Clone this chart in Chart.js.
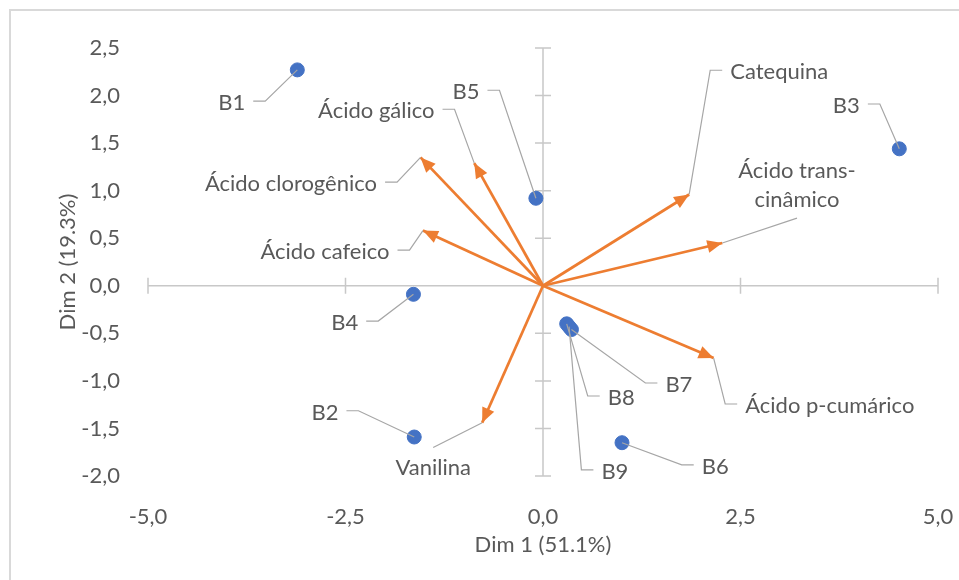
<!DOCTYPE html>
<html>
<head>
<meta charset="utf-8">
<script src="https://cdn.jsdelivr.net/npm/chart.js@4.4.1/dist/chart.umd.min.js"></script>
<style>
  html, body { margin: 0; padding: 0; background: #fff; }
  #wrap { position: relative; width: 959px; height: 580px; }
</style>
</head>
<body>
<div id="wrap"><canvas id="pcaChart"></canvas></div>
<script>
// Sample scores (Dim 1, Dim 2)
const sampleNames = ["B1", "B2", "B3", "B4", "B5", "B6", "B7", "B8", "B9"];
const sampleDim1 = [-3.11, -1.63, 4.51, -1.64, -0.09, 1.00, 0.36, 0.30, 0.33];
const sampleDim2 = [2.27, -1.59, 1.44, -0.09, 0.92, -1.65, -0.46, -0.40, -0.43];

// Variable loadings (arrow tips)
const variableNames = ["Catequina", "Ácido trans-cinâmico", "Ácido p-cumárico", "Vanilina",
  "Ácido cafeico", "Ácido clorogênico", "Ácido gálico"];
const variableDim1 = [1.85, 2.27, 2.16, -0.77, -1.52, -1.55, -0.87];
const variableDim2 = [0.96, 0.45, -0.76, -1.44, 0.58, 1.35, 1.29];

// Axis ticks
const xTickValues = [-5, -2.5, 0, 2.5, 5];
const yTickValues = [-2, -1.5, -1, -0.5, 0, 0.5, 1, 1.5, 2, 2.5];

// Where the data labels sit (in axis units) and which side the leader leaves from
const sampleLabelPlaces = {
  B1: { x: -3.94, y: 1.92, side: "right" },
  B2: { x: -2.76, y: -1.335, side: "right" },
  B3: { x: 3.84, y: 1.89, side: "right" },
  B4: { x: -2.51, y: -0.392, side: "right" },
  B5: { x: -0.975, y: 2.035, side: "right" },
  B6: { x: 2.18, y: -1.904, side: "left" },
  B7: { x: 1.72, y: -1.043, side: "left" },
  B8: { x: 0.99, y: -1.18, side: "left" },
  B9: { x: 0.91, y: -1.957, side: "left" }
};
const variableLabelPlaces = {
  "Catequina": { x: 2.99, y: 2.245, side: "left" },
  "Ácido trans-cinâmico": { x: 3.215, y: 1.058, side: "below", lines: ["Ácido trans-", "cinâmico"] },
  "Ácido p-cumárico": { x: 3.63, y: -1.264, side: "left" },
  "Vanilina": { x: -1.39, y: -1.915, side: "above" },
  "Ácido cafeico": { x: -2.76, y: 0.354, side: "right" },
  "Ácido clorogênico": { x: -3.19, y: 1.068, side: "right" },
  "Ácido gálico": { x: -2.11, y: 1.835, side: "right" }
};

const textColor = "#595959";
const axisColor = "#c8c8c8";
const leaderColor = "#a6a6a6";
const pointColor = "#4472C4";
const arrowColor = "#ED7D31";
const fontFamily = "Lato, 'Open Sans', sans-serif";
const fontSize = 22;

Chart.defaults.font.family = fontFamily;
Chart.defaults.font.size = fontSize;
Chart.defaults.color = textColor;

const fmt = v => v.toFixed(1).replace(".", ",");

const samplePoints = sampleNames.map((n, i) => ({ x: sampleDim1[i], y: sampleDim2[i] }));

const arrowSets = variableNames.map((n, i) => ({
  label: n,
  data: [{ x: 0, y: 0 }, { x: variableDim1[i], y: variableDim2[i] }],
  showLine: true,
  borderColor: arrowColor,
  borderWidth: 2.75,
  pointRadius: 0,
  order: 2,
  isArrow: true
}));

// light frame like the cropped Excel chart area
const framePlugin = {
  id: "frame",
  beforeDraw(chart) {
    const ctx = chart.ctx;
    ctx.save();
    ctx.strokeStyle = "#d9d9d9";
    ctx.lineWidth = 2;
    ctx.beginPath();
    ctx.moveTo(10, chart.height);
    ctx.lineTo(10, 10);
    ctx.lineTo(chart.width, 10);
    ctx.stroke();
    ctx.restore();
  }
};

// axes crossing at the origin with cross ticks
const crossAxesPlugin = {
  id: "crossAxes",
  beforeDatasetsDraw(chart) {
    const { ctx, scales: { x, y } } = chart;
    const x0 = x.getPixelForValue(0);
    const y0 = y.getPixelForValue(0);
    ctx.save();
    ctx.strokeStyle = axisColor;
    ctx.lineWidth = 1.5;
    ctx.beginPath();
    ctx.moveTo(x.left, y0);
    ctx.lineTo(x.right, y0);
    ctx.moveTo(x0, y.top);
    ctx.lineTo(x0, y.bottom);
    xTickValues.forEach(v => {
      const px = x.getPixelForValue(v);
      ctx.moveTo(px, y0 - 8);
      ctx.lineTo(px, y0 + 8);
    });
    yTickValues.forEach(v => {
      const py = y.getPixelForValue(v);
      ctx.moveTo(x0 - 8, py);
      ctx.lineTo(x0 + 8, py);
    });
    ctx.stroke();
    ctx.restore();
  }
};

// arrowheads at the loading tips
const arrowHeadPlugin = {
  id: "arrowHeads",
  afterDatasetsDraw(chart) {
    const { ctx, scales: { x, y } } = chart;
    ctx.save();
    ctx.fillStyle = arrowColor;
    chart.data.datasets.forEach(ds => {
      if (!ds.isArrow) return;
      const a = ds.data[0], b = ds.data[1];
      const ax = x.getPixelForValue(a.x), ay = y.getPixelForValue(a.y);
      const bx = x.getPixelForValue(b.x), by = y.getPixelForValue(b.y);
      const ang = Math.atan2(by - ay, bx - ax);
      const len = 15, half = 6.5;
      ctx.beginPath();
      ctx.moveTo(bx, by);
      ctx.lineTo(bx - len * Math.cos(ang) + half * Math.sin(ang), by - len * Math.sin(ang) - half * Math.cos(ang));
      ctx.lineTo(bx - len * Math.cos(ang) - half * Math.sin(ang), by - len * Math.sin(ang) + half * Math.cos(ang));
      ctx.closePath();
      ctx.fill();
    });
    ctx.restore();
  }
};

// data labels with leader lines
function drawLabel(ctx, x, y, text, place, tx, ty) {
  const lines = place.lines || [text];
  const lh = 29;
  const cx = x.getPixelForValue(place.x);
  const cy = y.getPixelForValue(place.y);
  const w = Math.max(...lines.map(l => ctx.measureText(l).width));
  const h = lh * lines.length;
  const px = x.getPixelForValue(tx);
  const py = y.getPixelForValue(ty);

  ctx.strokeStyle = leaderColor;
  ctx.lineWidth = 1.2;
  ctx.beginPath();
  if (place.side === "right") {
    ctx.moveTo(cx + w / 2 + 8, cy - 2);
    ctx.lineTo(cx + w / 2 + 20, cy - 2);
  } else if (place.side === "left") {
    ctx.moveTo(cx - w / 2 - 8, cy - 2);
    ctx.lineTo(cx - w / 2 - 20, cy - 2);
  } else if (place.side === "below") {
    ctx.moveTo(cx, cy + h / 2 + 4);
  } else {
    ctx.moveTo(cx, cy - h / 2 - 6);
  }
  ctx.lineTo(px, py);
  ctx.stroke();

  ctx.fillStyle = textColor;
  lines.forEach((l, i) => {
    ctx.fillText(l, cx, cy - h / 2 + lh * (i + 0.5));
  });
}

const labelPlugin = {
  id: "pcaLabels",
  afterDatasetsDraw(chart) {
    const { ctx, scales: { x, y } } = chart;
    ctx.save();
    ctx.font = fontSize + "px " + fontFamily;
    ctx.textAlign = "center";
    ctx.textBaseline = "middle";
    sampleNames.forEach((n, i) => {
      drawLabel(ctx, x, y, n, sampleLabelPlaces[n], sampleDim1[i], sampleDim2[i]);
    });
    variableNames.forEach((n, i) => {
      drawLabel(ctx, x, y, n, variableLabelPlaces[n], variableDim1[i], variableDim2[i]);
    });
    ctx.restore();
  }
};

new Chart(document.getElementById("pcaChart"), {
  type: "scatter",
  data: {
    datasets: [
      {
        label: "Amostras",
        data: samplePoints,
        backgroundColor: pointColor,
        borderColor: pointColor,
        pointRadius: 7,
        order: 1
      },
      ...arrowSets
    ]
  },
  options: {
    responsive: true,
    maintainAspectRatio: false,
    animation: false,
    layout: { padding: { top: 48, right: 21, left: 0, bottom: 0 } },
    plugins: {
      legend: { display: false },
      tooltip: { enabled: false }
    },
    scales: {
      x: {
        type: "linear",
        min: -5,
        max: 5,
        afterBuildTicks: s => { s.ticks = xTickValues.map(v => ({ value: v })); },
        afterFit: s => { s.height = 104; s.paddingLeft = 0; s.paddingRight = 0; },
        grid: { display: false },
        border: { display: false },
        ticks: { padding: 20, color: textColor, callback: v => fmt(v) },
        title: { display: true, text: "Dim 1 (51.1%)", color: textColor, padding: { top: 0, bottom: 22 } }
      },
      y: {
        type: "linear",
        min: -2,
        max: 2.5,
        afterBuildTicks: s => { s.ticks = yTickValues.map(v => ({ value: v })); },
        afterFit: s => { s.width = 148; },
        grid: { display: false },
        border: { display: false },
        ticks: { padding: 20, color: textColor, callback: v => fmt(v) },
        title: { display: true, text: "Dim 2 (19.3%)", color: textColor, padding: { top: 55, bottom: 0 } }
      }
    }
  },
  plugins: [framePlugin, crossAxesPlugin, arrowHeadPlugin, labelPlugin]
});
</script>
</body>
</html>
